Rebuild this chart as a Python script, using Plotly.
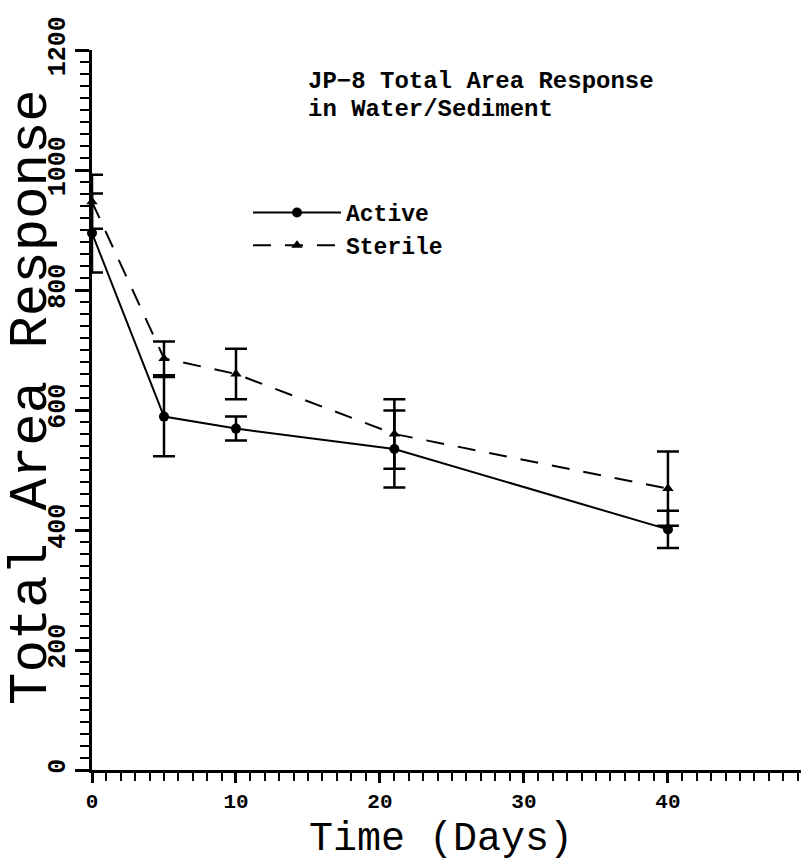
import plotly.graph_objects as go

days = [0, 5, 10, 21, 40]
active = [895, 589, 569, 535, 401]
active_err = [66, 66, 20, 64, 31]
sterile = [947, 686, 660, 560, 469]
sterile_err = [45, 28, 42, 58, 62]

FONT = "Liberation Mono"

fig = go.Figure()
fig.add_trace(go.Scatter(
    x=days, y=active, name="Active", mode="lines+markers",
    line=dict(color="black", width=2),
    marker=dict(symbol="circle", size=10, color="black"),
    error_y=dict(type="data", array=active_err, visible=True, color="black", thickness=2.5, width=11),
    cliponaxis=False,
))
fig.add_trace(go.Scatter(
    x=days, y=sterile, name="Sterile", mode="lines+markers",
    line=dict(color="black", width=2, dash="18px,14px"),
    marker=dict(symbol="triangle-up", size=10, color="black"),
    error_y=dict(type="data", array=sterile_err, visible=True, color="black", thickness=2.5, width=11),
    cliponaxis=False,
))

T, B, L = 50, 770, 92
H = B - T


def py(pix):
    return (B - pix) / H


def px(pix):
    return (pix - L) / (801 - L)


fig.update_layout(
    width=801, height=865,
    margin=dict(l=L, r=0, t=T, b=865 - B),
    paper_bgcolor="white", plot_bgcolor="white",
    showlegend=True,
    legend=dict(x=px(248), y=py(229), xanchor="left", yanchor="middle",
                font=dict(family=FONT, size=23, color="black", weight="bold"),
                bgcolor="rgba(0,0,0,0)", tracegroupgap=0, itemwidth=88),
    xaxis=dict(
        range=[0, 49.24], showline=True, linecolor="black", linewidth=2.5,
        showgrid=False, zeroline=False,
        tickmode="linear", tick0=0, dtick=10,
        ticks="outside", ticklen=10, tickwidth=2.5, tickcolor="black",
        minor=dict(tickmode="linear", tick0=0, dtick=1, ticks="outside", ticklen=8, tickwidth=2, tickcolor="black"),
        tickfont=dict(family=FONT, size=21, color="black", weight="bold"),
    ),
    yaxis=dict(
        range=[0, 1200], showline=True, linecolor="black", linewidth=2.5,
        showgrid=False, zeroline=False,
        tickmode="linear", tick0=0, dtick=200,
        tickangle=-90,
        ticks="outside", ticklen=14, tickwidth=2.5, tickcolor="black",
        minor=dict(tickmode="linear", tick0=0, dtick=20, ticks="outside", ticklen=9, tickwidth=2, tickcolor="black"),
        tickfont=dict(family=FONT, size=25, color="black", weight="bold"),
    ),
    annotations=[
        dict(text="JP\u22128 Total Area Response", xref="paper", yref="paper",
             x=px(306), y=py(82), xanchor="left", yanchor="middle",
             showarrow=False, font=dict(family=FONT, size=24, color="black", weight="bold")),
        dict(text="in Water/Sediment", xref="paper", yref="paper",
             x=px(306), y=py(109), xanchor="left", yanchor="middle",
             showarrow=False, font=dict(family=FONT, size=24, color="black", weight="bold")),
        dict(text="Time (Days)", xref="paper", yref="paper",
             x=px(441), y=py(839), xanchor="center", yanchor="middle",
             showarrow=False, font=dict(family=FONT, size=40, color="black")),
        dict(text="Total Area Response", xref="paper", yref="paper",
             x=px(32), y=py(397), xanchor="center", yanchor="middle", textangle=-90,
             showarrow=False, font=dict(family=FONT, size=54, color="black")),
    ],
)

fig.write_html("out.html")
